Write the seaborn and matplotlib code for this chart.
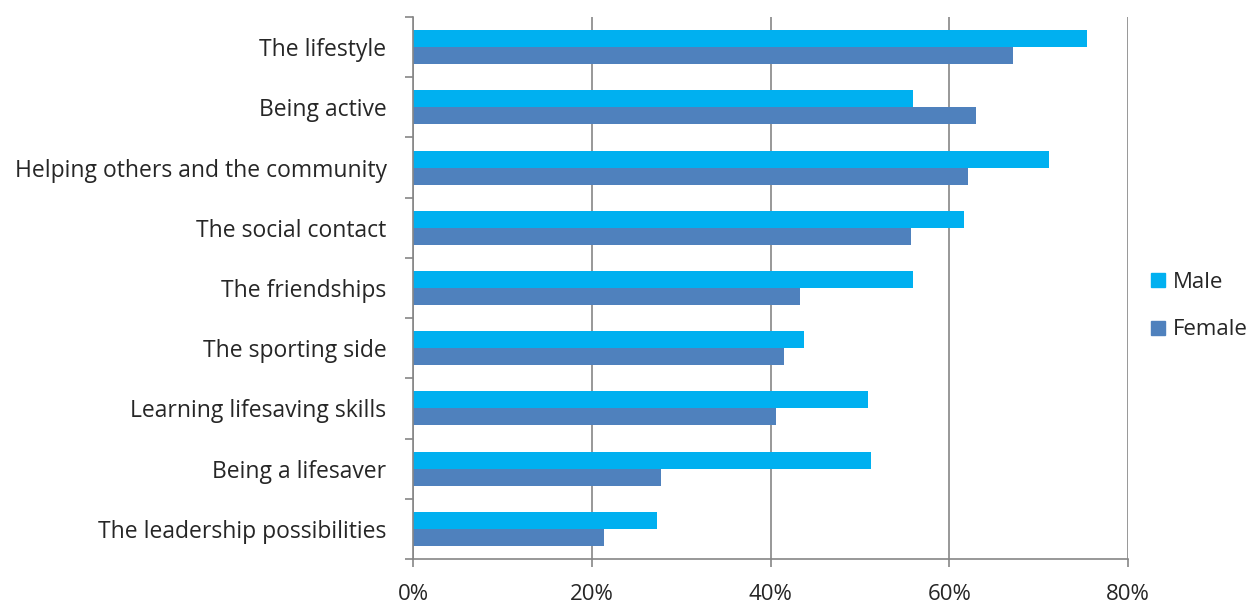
import matplotlib
matplotlib.use("Agg")
import matplotlib.pyplot as plt
from matplotlib.lines import Line2D
from matplotlib.ticker import FixedLocator, PercentFormatter
import seaborn as sns
import pandas as pd
import numpy as np

categories = [
    "The lifestyle",
    "Being active",
    "Helping others and the community",
    "The social contact",
    "The friendships",
    "The sporting side",
    "Learning lifesaving skills",
    "Being a lifesaver",
    "The leadership possibilities",
]
male = [75.4, 55.9, 71.2, 61.7, 55.9, 43.7, 50.9, 51.2, 27.3]
female = [67.1, 63.0, 62.1, 55.7, 43.3, 41.5, 40.6, 27.8, 21.4]
series = ["Male", "Female"]
colors = ["#00B0F0", "#4F81BD"]
xticks = [0, 20, 40, 60, 80]

df = pd.DataFrame({
    "category": categories * 2,
    "value": male + female,
    "gender": ["Male"] * len(categories) + ["Female"] * len(categories),
})

sns.set_style("white")
plt.rcParams["font.family"] = ["Open Sans", "DejaVu Sans"]

fig = plt.figure(figsize=(12.53, 6.03), dpi=100)
ax = fig.add_axes([413 / 1253, 44 / 603, 715 / 1253, 542 / 603])

sns.barplot(data=df, y="category", x="value", hue="gender", order=categories,
            hue_order=series, palette=colors, orient="h", width=0.565,
            saturation=1, ax=ax, legend=False, edgecolor="none")

grid_c = "#868686"
ax.set_xlim(0, 80)
ax.set_ylim(len(categories) - 0.5, -0.5)
ax.set_xticks(xticks)
ax.xaxis.set_major_formatter(PercentFormatter(decimals=0))
ax.grid(axis="x", color=grid_c, linewidth=1.2)
ax.set_axisbelow(True)
ax.set_xlabel("")
ax.set_ylabel("")

for s in ["top", "right"]:
    ax.spines[s].set_visible(False)
for s in ["left", "bottom"]:
    ax.spines[s].set_color(grid_c)
    ax.spines[s].set_linewidth(1.2)

ax.tick_params(axis="x", which="major", length=6, width=1.2, color=grid_c,
               direction="out", labelsize=16, pad=12, bottom=True)
ax.tick_params(axis="y", which="major", length=0, labelsize=16.5, pad=19)
ax.yaxis.set_minor_locator(FixedLocator(np.arange(-0.5, len(categories), 1.0)))
ax.tick_params(axis="y", which="minor", length=6, width=1.2, color=grid_c,
               direction="out", left=True)

handles = [Line2D([0], [0], marker="s", linestyle="none", markersize=10,
                  markerfacecolor=c, markeredgecolor=c) for c in colors]
fig.legend(handles, series, loc="center left", bbox_to_anchor=(1138 / 1253, 1 - 306 / 603),
           frameon=False, fontsize=16, labelspacing=1.2, handletextpad=0.15,
           handlelength=1.0, borderaxespad=0)

fig.savefig("out.png", dpi=100)
